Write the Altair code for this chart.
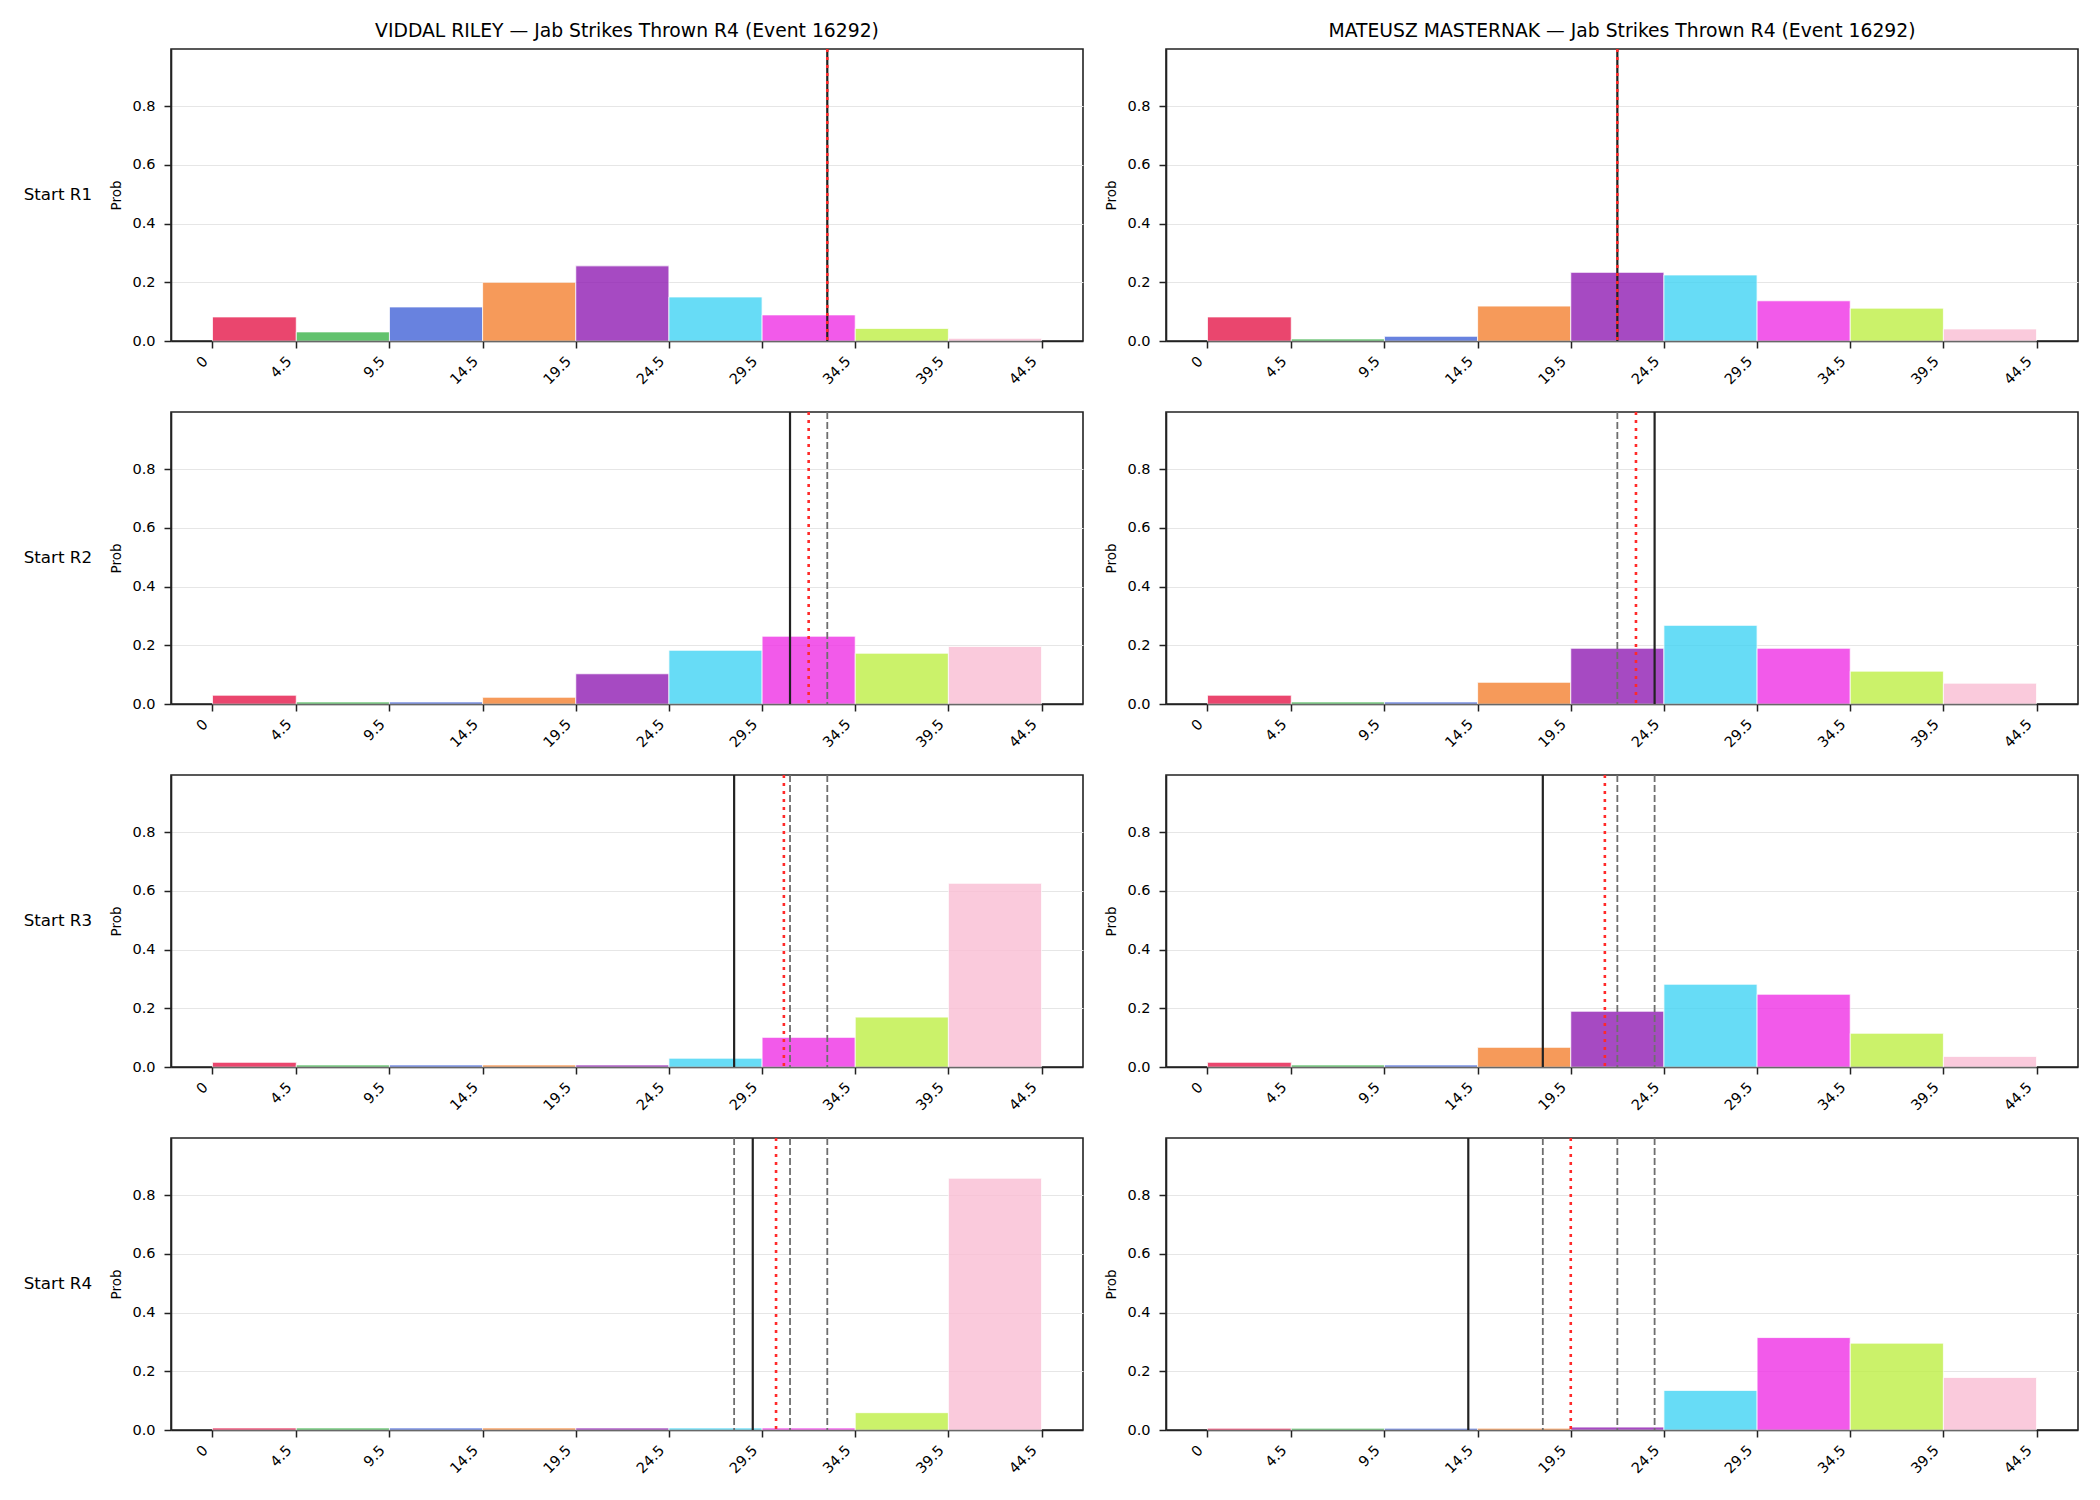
import altair as alt
import pandas as pd

# ---- data ----
edges = [0, 4.5, 9.5, 14.5, 19.5, 24.5, 29.5, 34.5, 39.5, 44.5]
palette = ["#e6194b", "#3cb44b", "#4363d8", "#f58231", "#911eb4",
           "#42d4f4", "#f032e6", "#bfef45", "#fabed4"]
starts = ["Start R1", "Start R2", "Start R3", "Start R4"]
suffix = " — Jab Strikes Thrown R4 (Event 16292)"
fighters = ["VIDDAL RILEY", "MATEUSZ MASTERNAK"]

riley_probs = [
    [0.082, 0.031, 0.116, 0.200, 0.256, 0.150, 0.089, 0.043, 0.009],
    [0.030, 0.007, 0.007, 0.023, 0.103, 0.183, 0.231, 0.173, 0.196],
    [0.016, 0.007, 0.007, 0.007, 0.007, 0.030, 0.101, 0.170, 0.626],
    [0.007, 0.007, 0.007, 0.007, 0.007, 0.007, 0.007, 0.059, 0.858],
]
masternak_probs = [
    [0.082, 0.007, 0.016, 0.119, 0.234, 0.225, 0.137, 0.112, 0.041],
    [0.030, 0.007, 0.007, 0.074, 0.190, 0.268, 0.190, 0.112, 0.071],
    [0.016, 0.007, 0.007, 0.067, 0.190, 0.282, 0.248, 0.115, 0.036],
    [0.006, 0.006, 0.006, 0.006, 0.010, 0.135, 0.315, 0.296, 0.179],
]
# projection at each start (solid black), running mean (red dotted)
riley_proj = [33.0, 31.0, 28.0, 29.0]
riley_mean = [33.0, 32.0, 30.67, 30.25]
masternak_proj = [22.0, 24.0, 18.0, 14.0]
masternak_mean = [22.0, 23.0, 21.33, 19.5]

probs = {"VIDDAL RILEY": riley_probs, "MATEUSZ MASTERNAK": masternak_probs}
projs = {"VIDDAL RILEY": riley_proj, "MATEUSZ MASTERNAK": masternak_proj}
means = {"VIDDAL RILEY": riley_mean, "MATEUSZ MASTERNAK": masternak_mean}

rows = []
panels = [f + suffix for f in fighters]
for f in fighters:
    panel = f + suffix
    for r, s in enumerate(starts):
        for b in range(len(edges) - 1):
            rows.append(dict(kind="bar", panel=panel, start=s, lo=edges[b],
                             hi=edges[b + 1], prob=probs[f][r][b], bin=b))
        for p in range(r):
            rows.append(dict(kind="prev", panel=panel, start=s, value=projs[f][p]))
        rows.append(dict(kind="cur", panel=panel, start=s, value=projs[f][r]))
        rows.append(dict(kind="mean", panel=panel, start=s, value=means[f][r]))
df = pd.DataFrame(rows)

FONT = "DejaVu Sans"
xscale = alt.Scale(domain=[-2.225, 46.725], nice=False, zero=False)
yscale = alt.Scale(domain=[0, 0.995], nice=False, zero=True)


def xaxis():
    return alt.Axis(values=edges, format=".3~g", labelAngle=-45, labelAlign="right",
                    labelBaseline="middle", labelOffset=-7, labelPadding=11,
                    labelOverlap=False, grid=False, title=None)


yaxis = alt.Axis(values=[0, 0.2, 0.4, 0.6, 0.8], format=".1f", grid=True,
                 title="Prob", titlePadding=8, labelPadding=9)

bars = alt.Chart().transform_filter(alt.datum.kind == "bar").mark_rect(
    opacity=0.8, stroke="white", strokeWidth=0.8
).encode(
    x=alt.X("lo:Q", scale=xscale, axis=xaxis()),
    x2="hi:Q",
    y=alt.Y("prob:Q", scale=yscale, axis=yaxis),
    y2=alt.datum(0),
    color=alt.Color("bin:O", scale=alt.Scale(domain=list(range(9)), range=palette),
                    legend=None),
)
prev = alt.Chart().transform_filter(alt.datum.kind == "prev").mark_rule(
    color="#6e6e6e", strokeWidth=1.8, strokeDash=[7, 3]
).encode(x=alt.X("value:Q", scale=xscale, axis=xaxis()))
cur = alt.Chart().transform_filter(alt.datum.kind == "cur").mark_rule(
    color="#222222", strokeWidth=2.2
).encode(x=alt.X("value:Q", scale=xscale, axis=xaxis()))
mean = alt.Chart().transform_filter(alt.datum.kind == "mean").mark_rule(
    color="#ff2a2a", strokeWidth=2.6, strokeDash=[3, 5]
).encode(x=alt.X("value:Q", scale=xscale, axis=xaxis()))

chart = alt.layer(bars, prev, cur, mean).properties(
    width=912, height=292
).facet(
    data=df,
    row=alt.Row("start:N", sort=starts, title=None,
                header=alt.Header(labelAngle=0, labelOrient="left", labelAlign="left",
                                  labelFontSize=16.7, labelFont=FONT, labelColor="black",
                                  labelPadding=17)),
    column=alt.Column("panel:N", sort=panels, title=None,
                      header=alt.Header(labelFontSize=18.75, labelFont=FONT,
                                        labelColor="black", labelPadding=5)),
    spacing={"row": 21, "column": 20},
).resolve_axis(x="independent", y="independent").properties(
    padding={"left": 23, "top": 22, "right": 5, "bottom": 5},
    background="white",
).configure_view(
    stroke="#222222", strokeWidth=1.6
).configure_axis(
    domainColor="#222222", domainWidth=1.6, tickColor="#222222", tickWidth=1.5,
    tickSize=7, labelFont=FONT, labelFontSize=14.5, labelColor="black",
    titleFont=FONT, titleFontSize=13.5, titleFontWeight="normal", titleColor="black",
    gridColor="#e6e6e6", gridWidth=1,
)

chart.save("out.html", embed_options={"renderer": "svg", "actions": False})
